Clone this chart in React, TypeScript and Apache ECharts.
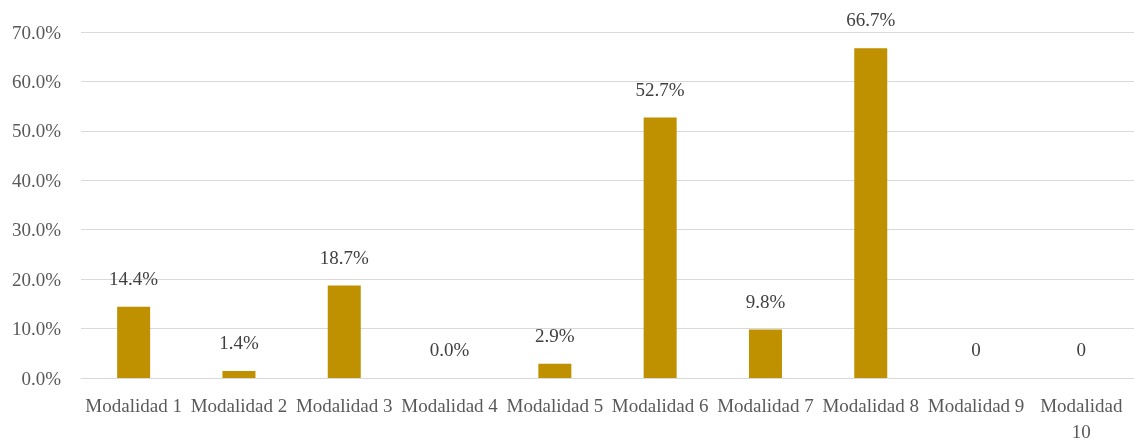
import React, { useEffect, useRef } from "react";
import * as echarts from "echarts";

const categories = [
  "Modalidad 1", "Modalidad 2", "Modalidad 3", "Modalidad 4", "Modalidad 5",
  "Modalidad 6", "Modalidad 7", "Modalidad 8", "Modalidad 9", "Modalidad\n10",
];
const values = [14.4, 1.4, 18.7, 0.0, 2.9, 52.7, 9.8, 66.7, 0, 0];
const dataLabels = ["14.4%", "1.4%", "18.7%", "0.0%", "2.9%", "52.7%", "9.8%", "66.7%", "0", "0"];
const yTicks = [0, 10, 20, 30, 40, 50, 60, 70];

export default function App() {
  const ref = useRef<HTMLDivElement>(null);
  useEffect(() => {
    if (!ref.current) return;
    const chart = echarts.init(ref.current, undefined, { renderer: "svg" });
    const font = "Liberation Serif";
    chart.setOption({
      animation: false,
      textStyle: { fontFamily: font },
      grid: {
        left: 81, right: 0, top: 32, bottom: 62,
        containLabel: false, outerBoundsMode: "none",
      },
      xAxis: {
        type: "category",
        data: categories,
        axisLine: { show: true, lineStyle: { color: "#d9d9d9", width: 1 } },
        axisTick: { show: false },
        axisLabel: {
          color: "#595959", fontSize: 19, fontFamily: font, interval: 0,
          margin: 14, lineHeight: 26,
        },
      },
      yAxis: {
        type: "value",
        min: yTicks[0],
        max: yTicks[yTicks.length - 1],
        interval: 10,
        axisLine: { show: false },
        axisTick: { show: false },
        splitLine: { lineStyle: { color: "#d9d9d9", width: 1 } },
        axisLabel: {
          color: "#595959", fontSize: 19, fontFamily: font, margin: 20,
          formatter: (v: number) => v.toFixed(1) + "%",
        },
      },
      series: [
        {
          type: "bar",
          data: values,
          barWidth: 33,
          itemStyle: { color: "#BF9000" },
          label: {
            show: true,
            position: "top",
            distance: 19,
            color: "#404040",
            fontSize: 19,
            fontFamily: font,
            formatter: (p: any) => dataLabels[p.dataIndex],
          },
        },
      ],
    });
    return () => chart.dispose();
  }, []);
  return <div ref={ref} style={{ width: 1134, height: 440, position: "fixed", left: 0, top: 0 }} />;
}
